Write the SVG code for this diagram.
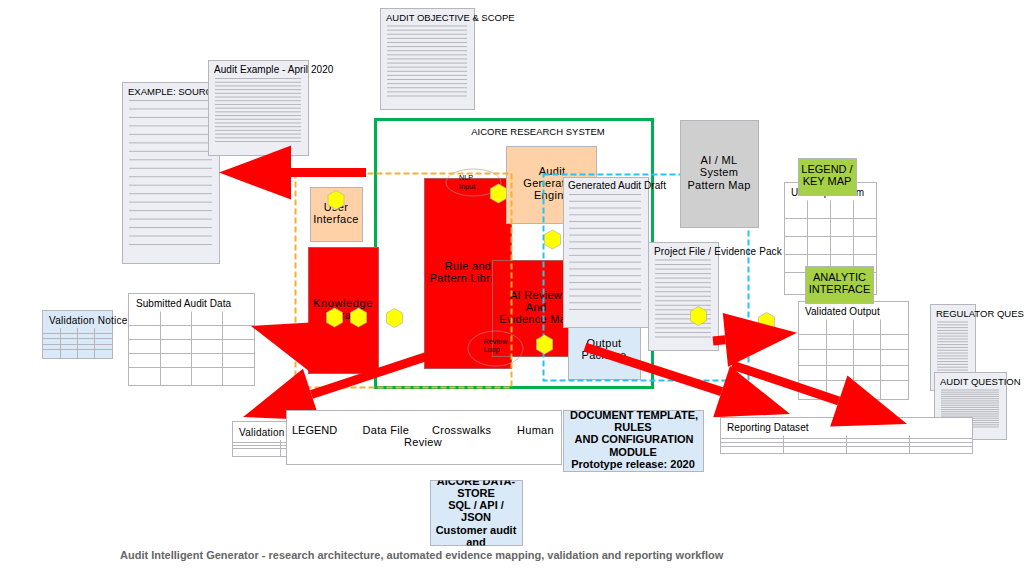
<svg xmlns="http://www.w3.org/2000/svg" xmlns:xlink="http://www.w3.org/1999/xlink" width="1024" height="576" viewBox="0 0 1024 576">
<style>
text{font-family:"Liberation Sans",Arial,sans-serif;fill:#000}
.t{font-size:10px;letter-spacing:.06px}
.c{font-size:9.5px}
.w{letter-spacing:.25px}
.l{font-size:11px;text-anchor:middle;letter-spacing:.3px}
.u{font-size:11px;text-anchor:middle}
.m{font-size:11px;letter-spacing:.3px}
.b{font-size:11px;font-weight:bold;text-anchor:middle}
.s{font-size:7.3px}
.doc{fill:#eceef4;stroke:#b5b5bb}
.tbl{fill:#fff;stroke:#b5b5bb}
.grid{fill:none;stroke:#b5b5bb}
.dl{fill:none;stroke:#b5b5bb;stroke-width:1;vector-effect:non-scaling-stroke}
.red{fill:#f00;stroke:#b05a5a}
.peach{fill:#ffd1a6;stroke:#b5b5bb}
.pale{fill:#d9e9f8;stroke:#b5b5bb}
.lime{fill:#a6d146;stroke:#b5b5bb}
.hex{fill:#ff0;stroke:#b5b5a0;stroke-width:.7}
.arrow{fill:none;stroke:#f00;stroke-width:9;marker-end:url(#head)}
.oval{fill:none;stroke:#999;stroke-width:.8;stroke-opacity:.75}
symbol{overflow:visible}
</style>
<defs>
<marker id="head" markerUnits="strokeWidth" markerWidth="8" markerHeight="6" refX="0" refY="3" orient="auto" overflow="visible"><path d="M0 0L8 3L0 6Z" fill="#f00"/></marker>
<symbol id="ln" viewBox="0 0 100 17" preserveAspectRatio="none"><path class="dl" d="M0 0H100M0 1H100M0 2H100M0 3H100M0 4H100M0 5H100M0 6H100M0 7H100M0 8H100M0 9H100M0 10H100M0 11H100M0 12H100M0 13H100M0 14H100M0 15H100M0 16H100M0 17H100"/></symbol>
<polygon id="hx" class="hex" points="0,-9.5 8,-5 8,5 0,9.5 -8,5 -8,-5"/>
<clipPath id="storeClip"><rect x="430.5" y="480.5" width="92" height="65"/></clipPath>
</defs>
<rect width="1024" height="576" fill="#fff"/>

<g id="audit-objective"><rect class="doc" x="380.5" y="8.5" width="94" height="101"/><text class="c" x="386" y="21">AUDIT OBJECTIVE &amp; SCOPE</text><use href="#ln" x="387" y="26" width="80" height="70"/></g>
<g id="example-source"><rect class="doc" x="122.5" y="82.5" width="97" height="181"/><text class="c" x="128" y="95">EXAMPLE: SOURCE</text><use href="#ln" x="129" y="100.5" width="83" height="144"/></g>
<g id="audit-example"><rect class="doc" x="208.5" y="60.5" width="100" height="95"/><text class="t" x="214" y="73">Audit Example - April 2020</text><use href="#ln" x="215" y="78.5" width="86" height="63"/></g>

<g id="system"><rect x="375.5" y="119.5" width="277" height="268" fill="none" stroke="#00b050" stroke-width="3"/><text x="538" y="135" font-size="9.5" text-anchor="middle">AICORE RESEARCH SYSTEM</text></g>

<g id="user-interface"><rect class="peach" x="310.5" y="187.5" width="52" height="54"/><text class="l" x="336" y="211">User</text><text class="l" x="336" y="223">Interface</text></g>
<g id="knowledge"><rect class="red" x="308.5" y="247.5" width="70" height="126"/><text class="l" x="343" y="307" style="letter-spacing:.6px">Knowledge</text><text class="l" x="343" y="319">Library</text></g>
<g id="rule-library"><rect class="red" x="424.5" y="178.5" width="87" height="190"/><text class="l" x="468" y="270">Rule and</text><text class="l" x="468" y="282">Pattern Library</text></g>
<g id="nlp-input"><ellipse class="oval" cx="473.5" cy="182.5" rx="27.5" ry="13.5"/><text class="s" x="459" y="180">NLP</text><text class="s" x="459" y="189">Input</text></g>
<g id="engine"><rect class="peach" x="506.5" y="146.5" width="90" height="77"/><text class="l" x="552" y="175">Audit</text><text class="l" x="552" y="187">Generation</text><text class="l" x="552" y="199">Engine</text></g>
<g id="ai-review"><rect class="red" x="492.5" y="260.5" width="88" height="96"/><text class="l" x="536" y="299">AI Review</text><text class="l" x="536" y="311">And</text><text class="l" x="536" y="323">Evidence Map</text></g>
<g id="review-loop"><ellipse class="oval" cx="495.5" cy="348.5" rx="27.5" ry="17.5"/><text class="s" x="483.5" y="344">Review</text><text class="s" x="483.5" y="352">Loop</text></g>
<g id="output"><rect class="pale" x="568.5" y="320.5" width="72" height="59"/><text class="l" x="604" y="347">Output</text><text class="l" x="604" y="359">Package</text></g>

<g id="boundaries" fill="none" stroke-width="2" stroke-dasharray="6 3">
<rect x="295.5" y="173.5" width="216" height="214" stroke="#f5b02e"/>
<rect x="543.5" y="174.5" width="205" height="206" stroke="#29c1f3"/>
</g>

<g id="generated-draft"><rect class="doc" x="563.5" y="177.5" width="85" height="150"/><text class="t" x="568" y="189">Generated Audit Draft</text><use href="#ln" x="569" y="194.5" width="72" height="115"/></g>
<g id="project-file"><rect class="doc" x="648.5" y="242.5" width="70" height="108"/><text class="t" x="654" y="255" style="letter-spacing:.12px">Project File / Evidence Pack</text><use href="#ln" x="655" y="260" width="56" height="77"/></g>
<g id="ml-map"><rect x="680.5" y="120.5" width="78" height="107" fill="#cfcfcf" stroke="#b5b5bb"/><text class="l" x="719" y="164">AI / ML</text><text class="l" x="719" y="176">System</text><text class="l" x="719" y="189">Pattern Map</text></g>

<g id="user-input"><rect class="tbl" x="784.5" y="182.5" width="92" height="112"/><text class="t" x="791" y="196">User Input Form</text><path class="grid" d="M784.5 218.5H876.5M784.5 236.5H876.5M784.5 254.5H876.5M784.5 272.5H876.5M807.5 200.5V294.5M830.5 200.5V294.5M853.5 200.5V294.5"/></g>
<g id="legend-key"><rect class="lime" x="798.5" y="158.5" width="58" height="37"/><text class="u" x="827" y="173">LEGEND /</text><text class="u" x="827" y="185">KEY MAP</text></g>
<g id="validated-output"><rect class="tbl" x="798.5" y="301.5" width="110" height="98"/><text class="t" x="805" y="315">Validated Output</text><path class="grid" d="M798.5 334.5H908.5M798.5 349.5H908.5M798.5 365.5H908.5M798.5 380.5H908.5M826.5 319.5V399.5M853.5 319.5V399.5M880.5 319.5V399.5"/></g>
<g id="analytic"><rect class="lime" x="805.5" y="266.5" width="68" height="37"/><text class="u" x="839.5" y="281">ANALYTIC</text><text class="u" x="839.5" y="293">INTERFACE</text></g>
<g id="regulator"><rect class="doc" x="930.5" y="304.5" width="45" height="86"/><text class="c" x="936" y="317">REGULATOR QUES</text><use href="#ln" x="937" y="322" width="31" height="48"/></g>
<g id="audit-question"><rect class="doc" x="934.5" y="372.5" width="72" height="67"/><text class="c" x="940" y="385">AUDIT QUESTION</text><use href="#ln" x="941" y="390" width="58" height="37"/></g>
<g id="reporting"><rect class="tbl" x="720.5" y="417.5" width="252" height="36"/><text class="t" x="727" y="431">Reporting Dataset</text><path class="grid" d="M720.5 438.5H972.5M720.5 442.5H972.5M720.5 446.5H972.5M783.5 435.5V453.5M846.5 435.5V453.5M909.5 435.5V453.5"/></g>
<g id="submitted"><rect class="tbl" x="128.5" y="293.5" width="126" height="92"/><text class="t" x="136" y="307">Submitted Audit Data</text><path class="grid" d="M128.5 325.5H254.5M128.5 339.5H254.5M128.5 353.5H254.5M128.5 367.5H254.5M160.5 311.5V385.5M191.5 311.5V385.5M222.5 311.5V385.5"/></g>
<g id="validation-notice"><rect class="pale" x="42.5" y="310.5" width="70" height="48"/><text class="t w" x="49" y="324">Validation Notice</text><path class="grid" d="M42.5 333.5H112.5M42.5 338.5H112.5M42.5 344.5H112.5M42.5 349.5H112.5M60.5 328V358.5M77.5 328V358.5M94.5 328V358.5"/></g>
<g id="validation"><rect class="tbl" x="232.5" y="421.5" width="70" height="35"/><text class="t w" x="239" y="436">Validation</text><path class="grid" d="M232.5 442.5H302.5M232.5 445.5H302.5M232.5 448.5H302.5M280.5 440V456.5"/></g>

<g id="hex-7"><use href="#hx" x="766.5" y="322"/></g>

<g id="connectors">
<path class="arrow" d="M366 172.5L291 172.5"/>
<path class="arrow" d="M370 363L319.8 347.4"/>
<path class="arrow" d="M428 356L311.4 394.5"/>
<path class="arrow" d="M713 341L725.4 339.8"/>
<path class="arrow" d="M585 347L721.6 391.6"/>
<path class="arrow" d="M732 365L838.8 401"/>
</g>

<g id="legend"><rect x="286.5" y="410.5" width="275" height="54" fill="#fff" stroke="#b5b5bb"/><text font-size="11" x="292" y="434">LEGEND</text><text class="m" x="362.5" y="434">Data File</text><text class="m" x="432" y="434">Crosswalks</text><text class="m" x="517" y="434">Human</text><text class="l" x="423" y="446">Review</text></g>
<g id="doc-template"><rect class="pale" x="563.5" y="410.5" width="140" height="61"/><text class="b" x="634" y="419">DOCUMENT TEMPLATE,</text><text class="b" x="633" y="431">RULES</text><text class="b" x="634" y="443">AND CONFIGURATION</text><text class="b" x="633" y="456">MODULE</text><text class="b" x="633" y="468">Prototype release: 2020</text></g>
<g id="data-store"><rect class="pale" x="430.5" y="480.5" width="92" height="65"/><g clip-path="url(#storeClip)"><text class="b" x="476" y="485">AICORE DATA-</text><text class="b" x="476" y="497">STORE</text><text class="b" x="476" y="509">SQL / API /</text><text class="b" x="476" y="521">JSON</text><text class="b" x="476" y="534">Customer audit</text><text class="b" x="476" y="546">and</text></g></g>

<g id="hex-1"><use href="#hx" x="336" y="200"/></g>
<g id="hex-2"><use href="#hx" x="498.5" y="193.5"/></g>
<g id="hex-3"><use href="#hx" x="552.5" y="239.5"/></g>
<g id="hex-4"><use href="#hx" x="544.5" y="344.5"/></g>
<g id="hex-5"><use href="#hx" x="334.5" y="317.5"/></g>
<g id="hex-6"><use href="#hx" x="358.5" y="317.5"/></g>
<g id="hex-8"><use href="#hx" x="394.5" y="318"/></g>
<g id="hex-9"><use href="#hx" x="698.5" y="316"/></g>

<text x="120" y="559" font-size="11" font-weight="bold" style="fill:#666">Audit Intelligent Generator - research architecture, automated evidence mapping, validation and reporting workflow</text>
</svg>
